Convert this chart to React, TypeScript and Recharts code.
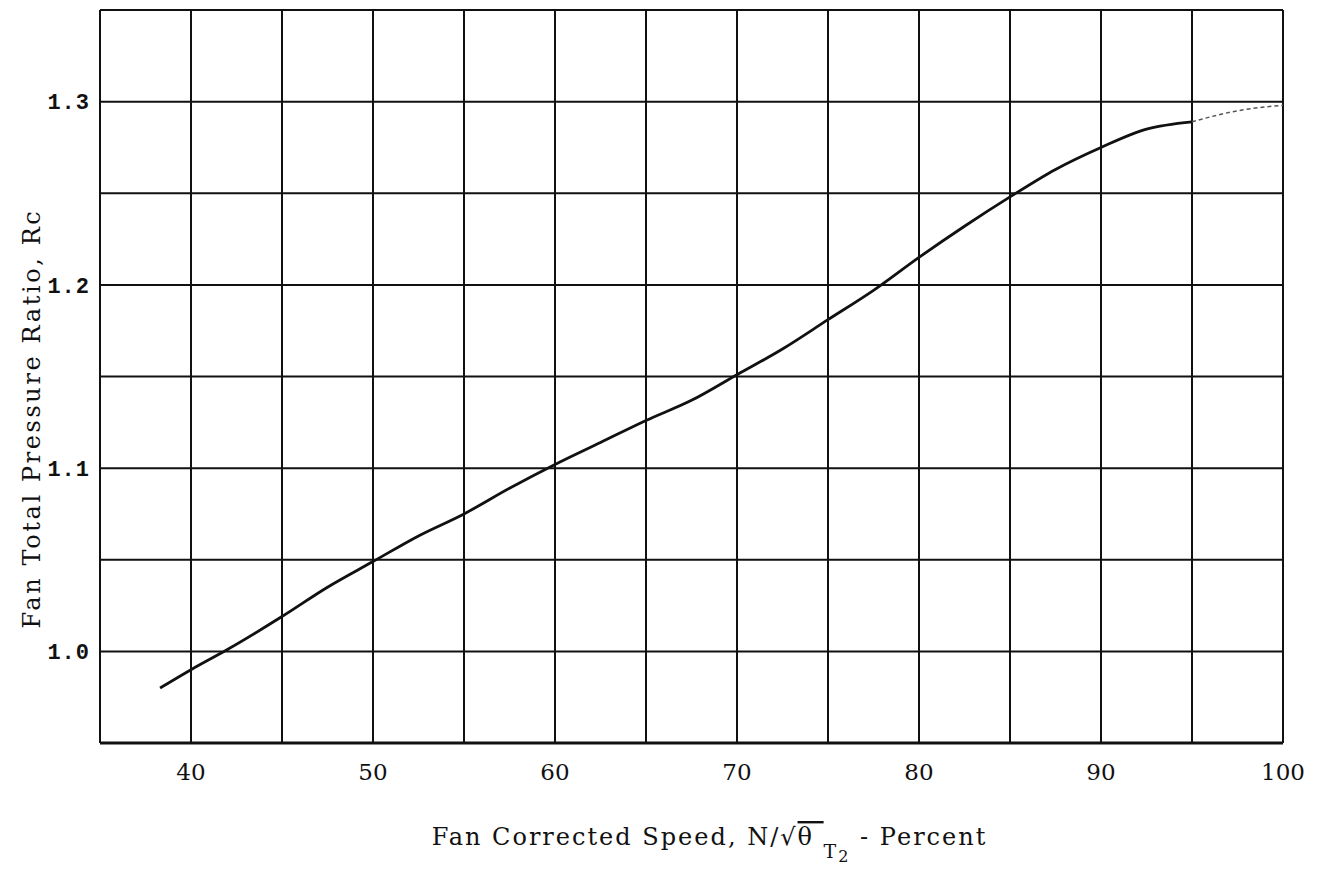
import React from "react";
import { LineChart, Line, XAxis, YAxis, CartesianGrid } from "recharts";

const speedSolid = [38.3, 40, 42, 45, 47.5, 50, 52.5, 55, 57.5, 60, 62.5, 65, 67.5, 70, 72.5, 75, 77.5, 80, 82.5, 85, 87.5, 90, 92.5, 95];
const ratioSolid = [0.98, 0.99, 1.001, 1.019, 1.035, 1.049, 1.063, 1.075, 1.089, 1.102, 1.114, 1.126, 1.137, 1.151, 1.165, 1.181, 1.197, 1.215, 1.232, 1.248, 1.263, 1.275, 1.285, 1.289];
const speedDotted = [95, 97.5, 100];
const ratioDotted = [1.289, 1.295, 1.298];

const xTicks = [35, 40, 45, 50, 55, 60, 65, 70, 75, 80, 85, 90, 95, 100];
const xLabels = ["40", "50", "60", "70", "80", "90", "100"];
const yTicks = [0.95, 1.0, 1.05, 1.1, 1.15, 1.2, 1.25, 1.3, 1.35];
const yLabels = ["1.0", "1.1", "1.2", "1.3"];

const solidData = speedSolid.map((x, i) => ({ x, y: ratioSolid[i] }));
const dottedData = speedDotted.map((x, i) => ({ x, y: ratioDotted[i] }));

const serif = "'DejaVu Serif', serif";

const fmtX = (v: number) => {
  const s = String(Math.round(v));
  return xLabels.includes(s) ? s : "";
};
const fmtY = (v: number) => {
  const s = v.toFixed(2).endsWith("0") ? v.toFixed(1) : "";
  return yLabels.includes(s) ? s : "";
};

const XTitle = (props: any) => {
  const vb = props.viewBox || { x: 0, y: 0, width: 0, height: 0 };
  const cx = vb.x + vb.width / 2 + 18;
  const y = vb.y + 102;
  return (
    <text x={cx} y={y} textAnchor="middle" fontFamily={serif} fontSize={24} letterSpacing={2} fill="#111">
      <tspan>Fan Corrected Speed, N/√</tspan>
      <tspan style={{ textDecoration: "overline" }}>{"θ\u00A0"}</tspan>
      <tspan fontSize={19} dy={13}>T</tspan>
      <tspan fontSize={16} dy={4}>2</tspan>
      <tspan dy={-17}>{"  - Percent"}</tspan>
    </text>
  );
};

const YTitle = (props: any) => {
  const vb = props.viewBox || { x: 0, y: 0, width: 0, height: 0 };
  const x = 32;
  const y = vb.y + vb.height / 2 + 42;
  return (
    <text x={x} y={y} transform={`rotate(-90, ${x}, ${y})`} textAnchor="middle" dominantBaseline="central" fontFamily={serif} fontSize={24} letterSpacing={2.6} fill="#111">
      Fan Total Pressure Ratio, Rc
    </text>
  );
};

export default function App() {
  return (
    <div style={{ position: "absolute", left: 0, top: 0, width: 1326, height: 871, background: "#fff" }}>
      <LineChart width={1326} height={871} margin={{ top: 10, right: 43, bottom: 0, left: 0 }}>
        <CartesianGrid stroke="#111" strokeWidth={2} strokeDasharray="" />
        <XAxis
          type="number"
          dataKey="x"
          domain={[35, 100]}
          ticks={xTicks}
          tickFormatter={fmtX}
          interval={0}
          tickLine={false}
          tickSize={0}
          tickMargin={21}
          axisLine={{ stroke: "#111", strokeWidth: 3 }}
          height={128}
          tick={{ fontFamily: serif, fontSize: 23, fill: "#111" }}
          allowDataOverflow
          label={<XTitle />}
        />
        <YAxis
          type="number"
          dataKey="y"
          domain={[0.95, 1.35]}
          ticks={yTicks}
          tickFormatter={fmtY}
          interval={0}
          tickLine={false}
          tickSize={0}
          tickMargin={10}
          axisLine={{ stroke: "#111", strokeWidth: 2 }}
          width={100}
          tick={{ fontFamily: "'Liberation Mono', monospace", fontSize: 22, fontWeight: "bold", fill: "#111", letterSpacing: 1 }}
          allowDataOverflow
          label={<YTitle />}
        />
        <Line data={solidData} dataKey="y" type="monotone" stroke="#111" strokeWidth={2.8} dot={false} isAnimationActive={false} />
        <Line data={dottedData} dataKey="y" type="monotone" stroke="#555" strokeWidth={1.5} strokeDasharray="4 3" dot={false} isAnimationActive={false} />
      </LineChart>
    </div>
  );
}
